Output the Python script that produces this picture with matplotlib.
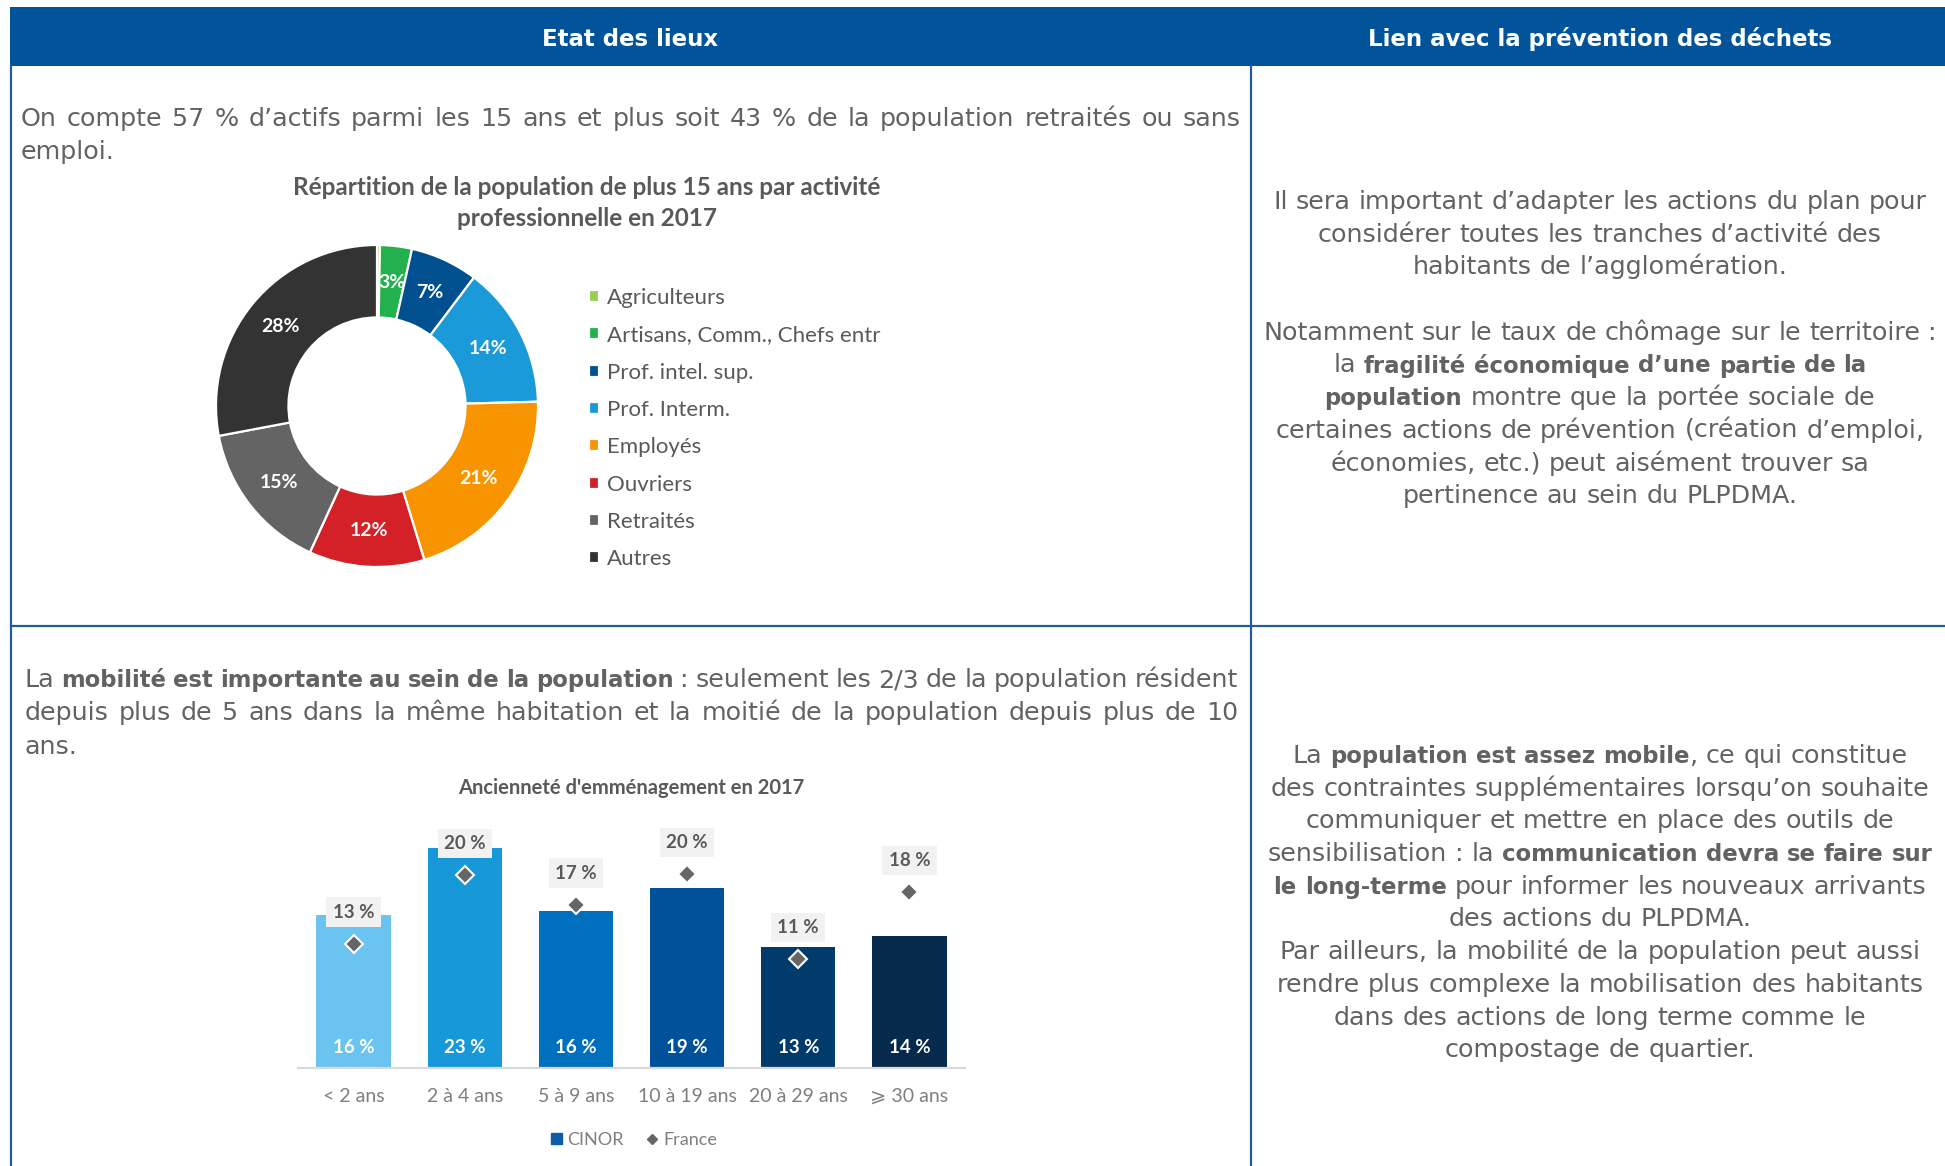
import matplotlib
matplotlib.use("Agg")
import matplotlib.pyplot as plt
from matplotlib.patches import Rectangle, Patch
from matplotlib.lines import Line2D

W, H = 1945, 1166

# --- data: pie chart (population 15+ by activity, 2017)
pie_cats = ["Agriculteurs", "Artisans, Comm., Chefs entr", "Prof. intel. sup.", "Prof. Interm.",
            "Employés", "Ouvriers", "Retraités", "Autres"]
pie_vals = [0.3, 3.2, 6.8, 14.3, 20.7, 11.6, 15.2, 28.0]
pie_cols = ["#92D050", "#22B14C", "#00508F", "#1A9AD9", "#F79400", "#D42027", "#646464", "#333333"]
pie_title = ["Répartition de la population de plus 15 ans par activité", "professionnelle en 2017"]

# --- data: bar chart (ancienneté d'emménagement 2017)
bar_cats = ["< 2 ans", "2 à 4 ans", "5 à 9 ans", "10 à 19 ans", "20 à 29 ans", "\u2a7e 30 ans"]
cinor = [16.0, 23.0, 16.4, 18.8, 12.7, 13.8]
france = [13.0, 20.2, 17.1, 20.3, 11.4, 18.4]
bar_cols = ["#6BC3EF", "#1698D9", "#006FBE", "#00509A", "#003B6B", "#062A4C"]
bar_title = "Ancienneté d'emménagement en 2017"

# --- text of the table
headers = ["Etat des lieux", "Lien avec la prévention des déchets"]
txt_top_left = [
    [("On compte 57 % d’actifs parmi les 15 ans et plus soit 43 % de la population retraités ou sans", False)],
    [("emploi.", False)],
]
txt_bot_left = [
    [("La ", False), ("mobilité est importante au sein de la population", True),
     (" : seulement les 2/3 de la population résident", False)],
    [("depuis plus de 5 ans dans la même habitation et la moitié de la population depuis plus de 10", False)],
    [("ans.", False)],
]
txt_top_right = [
    [("Il sera important d’adapter les actions du plan pour", False)],
    [("considérer toutes les tranches d’activité des", False)],
    [("habitants de l’agglomération.", False)],
    [],
    [("Notamment sur le taux de chômage sur le territoire :", False)],
    [("la ", False), ("fragilité économique d’une partie de la", True)],
    [("population", True), (" montre que la portée sociale de", False)],
    [("certaines actions de prévention (création d’emploi,", False)],
    [("économies, etc.) peut aisément trouver sa", False)],
    [("pertinence au sein du PLPDMA.", False)],
]
txt_bot_right = [
    [("La ", False), ("population est assez mobile", True), (", ce qui constitue", False)],
    [("des contraintes supplémentaires lorsqu’on souhaite", False)],
    [("communiquer et mettre en place des outils de", False)],
    [("sensibilisation : la ", False), ("communication devra se faire sur", True)],
    [("le long-terme", True), (" pour informer les nouveaux arrivants", False)],
    [("des actions du PLPDMA.", False)],
    [("Par ailleurs, la mobilité de la population peut aussi", False)],
    [("rendre plus complexe la mobilisation des habitants", False)],
    [("dans des actions de long terme comme le", False)],
    [("compostage de quartier.", False)],
]

BODY_FONT = "DejaVu Sans"
BODY_SIZE = 18.3
BOLD_SIZE = 16.4
TXT = "#626262"
BLUE = "#02549A"
LINE = "#235C9C"
CHART_FONT = "Lato"

fig = plt.figure(figsize=(W / 100, H / 100), dpi=100)
ax0 = fig.add_axes([0, 0, 1, 1])
ax0.set_xlim(0, W)
ax0.set_ylim(H, 0)
ax0.axis("off")
rend = fig.canvas.get_renderer()


def space_w(size):
    a = ax0.text(0, 0, "x x", fontsize=size, family=BODY_FONT)
    b = ax0.text(0, 0, "xx", fontsize=size, family=BODY_FONT)
    w = a.get_window_extent(rend).width - b.get_window_extent(rend).width
    a.remove()
    b.remove()
    return w


def put_line(x, y, parts, align="left", right=None, color=TXT):
    words = [[]]
    for txt, bold in parts:
        for k, p in enumerate(txt.split(" ")):
            if k > 0:
                words.append([])
            if p:
                words[-1].append((p, bold))
    words = [w for w in words if w]
    if not words:
        return
    rows, widths = [], []
    for w in words:
        row, wsum = [], 0
        for p, bold in w:
            t = ax0.text(0, y, p, fontsize=BOLD_SIZE if bold else BODY_SIZE, family=BODY_FONT, color=color,
                         fontweight="bold" if bold else "normal", ha="left", va="baseline")
            bw = t.get_window_extent(rend).width
            row.append((t, bw))
            wsum += bw
        rows.append(row)
        widths.append(wsum)
    sp = space_w(BODY_SIZE)
    total = sum(widths) + sp * (len(words) - 1)
    gap = sp
    if align == "center":
        cur = x - total / 2
    elif align == "justify":
        cur = x
        gap = (right - x - sum(widths)) / (len(words) - 1)
    else:
        cur = x
    for row in rows:
        for t, bw in row:
            t.set_x(cur)
            cur += bw
        cur += gap


# table frame
ax0.add_patch(Rectangle((10, 7), W - 10, 59, color=BLUE, lw=0))
ax0.plot([11, 11], [66, H], color=LINE, lw=1.6)
ax0.plot([1251, 1251], [66, H], color=LINE, lw=1.6)
ax0.plot([11, W], [626, 626], color=LINE, lw=1.6)
ax0.text(630, 46, headers[0], fontsize=16.5, family=BODY_FONT, fontweight="bold", color="white",
         ha="center", va="baseline")
ax0.text(1600, 46, headers[1], fontsize=16.5, family=BODY_FONT, fontweight="bold", color="white",
         ha="center", va="baseline")

# left paragraphs (justified)
put_line(21, 126, txt_top_left[0], "justify", right=1241)
put_line(21, 159, txt_top_left[1])
for i, ln in enumerate(txt_bot_left):
    if i < len(txt_bot_left) - 1:
        put_line(25, 687 + 33.3 * i, ln, "justify", right=1238)
    else:
        put_line(25, 687 + 33.3 * i, ln)

# right column (centered)
for i, ln in enumerate(txt_top_right):
    put_line(1600, 209 + 32.7 * i, ln, "center")
for i, ln in enumerate(txt_bot_right):
    put_line(1600, 763 + 32.7 * i, ln, "center")

# ---------------- pie chart
cx, cy, r = 377, 406, 161
m = 1.03
axp = fig.add_axes([(cx - r * m) / W, 1 - (cy + r * m) / H, 2 * r * m / W, 2 * r * m / H])
wedges, _, autot = axp.pie(pie_vals, colors=pie_cols, startangle=90, counterclock=False, radius=1,
                           wedgeprops=dict(width=0.45, edgecolor="white", linewidth=1.6),
                           autopct=lambda p: f"{p:.0f}%" if p >= 1 else "", pctdistance=0.775,
                           textprops=dict(color="white", fontsize=14, fontweight="bold", family=CHART_FONT))
axp.set_xlim(-m, m)
axp.set_ylim(-m, m)
axp.legend(wedges, pie_cats, loc="upper left", bbox_to_anchor=(589 / W, 1 - 288 / H),
           bbox_transform=fig.transFigure, frameon=False, prop=dict(family=CHART_FONT, size=16),
           labelcolor="#595959", handlelength=0.45, handleheight=0.45, handletextpad=0.36,
           labelspacing=0.78, borderpad=0, borderaxespad=0)
for i, ln in enumerate(pie_title):
    ax0.text(587, 195 + 31 * i, ln, fontsize=17.5, family=CHART_FONT, fontweight="bold", color="#595959",
             ha="center", va="baseline")

# ---------------- bar chart
base, top, ppp = 1068, 820, 9.55
axb = fig.add_axes([298 / W, 1 - base / H, (965 - 298) / W, (base - top) / H])
xs = range(len(bar_cats))
axb.bar(xs, cinor, width=0.67, color=bar_cols)
axb.plot(xs, france, "D", ls="none", color="#666666", mec="white", mew=1.5, ms=9)
axb.set_xlim(-0.5, 5.5)
axb.set_ylim(0, (base - top) / ppp)
for s in ["top", "left", "right"]:
    axb.spines[s].set_visible(False)
axb.spines["bottom"].set_color("#D9D9D9")
axb.spines["bottom"].set_linewidth(1.6)
axb.set_yticks([])
axb.set_xticks(list(xs))
axb.set_xticklabels(bar_cats, family=[CHART_FONT, "DejaVu Sans"], fontsize=14, color="#7F7F7F")
axb.tick_params(axis="x", length=0, pad=14.5)
for i in xs:
    axb.annotate(f"{cinor[i]:.0f} %", (i, 0), xytext=(0, 15.0), textcoords="offset points",
                 ha="center", va="center", color="white", fontsize=13.5, fontweight="bold", family=CHART_FONT)
    axb.annotate(f"{france[i]:.0f} %", (i, france[i]), xytext=(0, 22.8), textcoords="offset points",
                 ha="center", va="center", color="#595959", fontsize=13.5, fontweight="bold", family=CHART_FONT,
                 bbox=dict(boxstyle="square,pad=0.34", fc="#F2F2F2", ec="none"))
ax0.text(631, 794, bar_title, fontsize=14.5, family=CHART_FONT, fontweight="bold", color="#595959",
         ha="center", va="baseline")
fig.legend([Patch(color="#0F5CA6"), Line2D([], [], marker="D", ls="none", color="#666666", ms=5)],
           ["CINOR", "France"], loc="center", bbox_to_anchor=(634 / W, 1 - 1140 / H), ncol=2, frameon=False,
           prop=dict(family=CHART_FONT, size=13), labelcolor="#7F7F7F", handlelength=0.6, handleheight=0.6,
           handletextpad=0.3, columnspacing=1.3)

fig.savefig("out.png", dpi=100)
